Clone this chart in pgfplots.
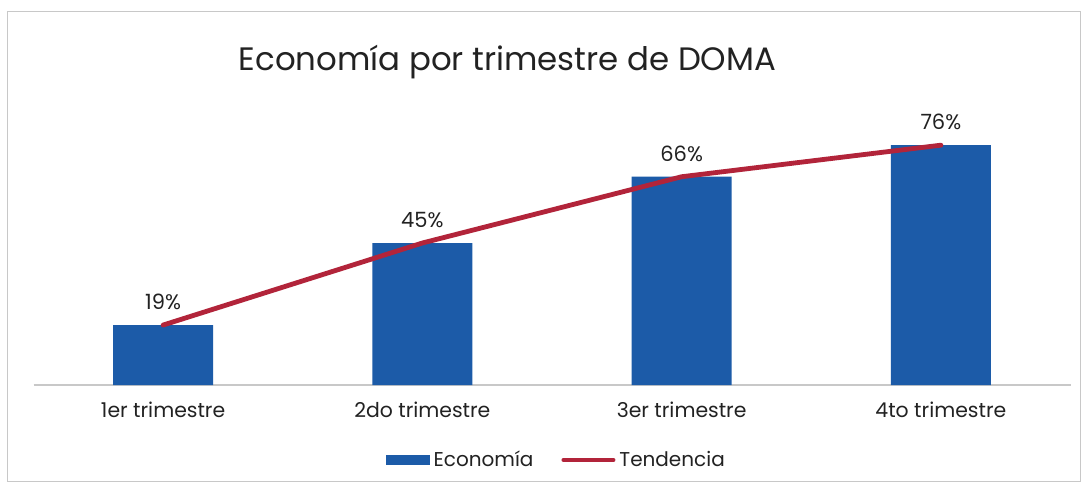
\documentclass[border=0pt]{standalone}
\usepackage{pgfplots}
\pgfplotsset{compat=1.18}
\usepackage{fontspec}
\setmainfont{Poppins}
\definecolor{barblue}{HTML}{1C5BA8}
\definecolor{trendred}{HTML}{B2243A}
\definecolor{txt}{HTML}{222222}
\definecolor{frame}{HTML}{C8C8C8}
\begin{document}
\begin{tikzpicture}
\useasboundingbox[fill=white] (0,0) rectangle (543pt,244.5pt);
\draw[frame, line width=0.5pt] (3.5pt,4pt) rectangle (540pt,239pt);
\node[txt, font=\fontsize{16.2}{18}\selectfont] at (253.75pt,213.5pt) {Economía por trimestre de DOMA};
\begin{axis}[
  at={(16.75pt,52pt)}, anchor=south west,
  scale only axis, width=518.5pt, height=142pt,
  xmin=-0.5, xmax=3.5, ymin=0, ymax=90,
  axis line style={draw=none},
  axis x line*=bottom,
  hide y axis,
  xtick={0,1,2,3},
  xticklabels={1er trimestre,2do trimestre,3er trimestre,4to trimestre},
  major tick length=0pt,
  x tick label style={font=\fontsize{10.2}{12}\selectfont, text=txt, yshift=-5pt},
  clip=false,
  legend columns=2,
  legend style={at={(0.505,-0.264)}, anchor=center, draw=none, fill=none,
    font=\fontsize{10}{12}\selectfont, text=txt,
    /tikz/every even column/.append style={column sep=12pt}},
]
\draw[frame, line width=0.6pt] (axis cs:-0.5,0) -- (axis cs:3.5,0);
\addplot[ybar, bar width=50pt, fill=barblue, draw=none,
  nodes near coords={\pgfmathprintnumber[assume math mode=true]{\pgfplotspointmeta}\%},
  every node near coord/.append style={font=\fontsize{10.5}{12}\selectfont, text=txt, anchor=south, yshift=4pt},
  legend image code/.code={\fill[barblue] (0pt,-2.5pt) rectangle (22pt,2.5pt);}]
  coordinates {(0,19) (1,45) (2,66) (3,76)};
\addlegendentry{Economía}
\addplot[trendred, line width=2.4pt, line cap=round, line join=round, mark=none,
  legend image code/.code={\draw[trendred, line width=2pt, line cap=round] (0pt,0pt) -- (25pt,0pt);}]
  coordinates {(0,19) (1,45) (2,66) (3,76)};
\addlegendentry{Tendencia}
\end{axis}
\end{tikzpicture}
\end{document}
